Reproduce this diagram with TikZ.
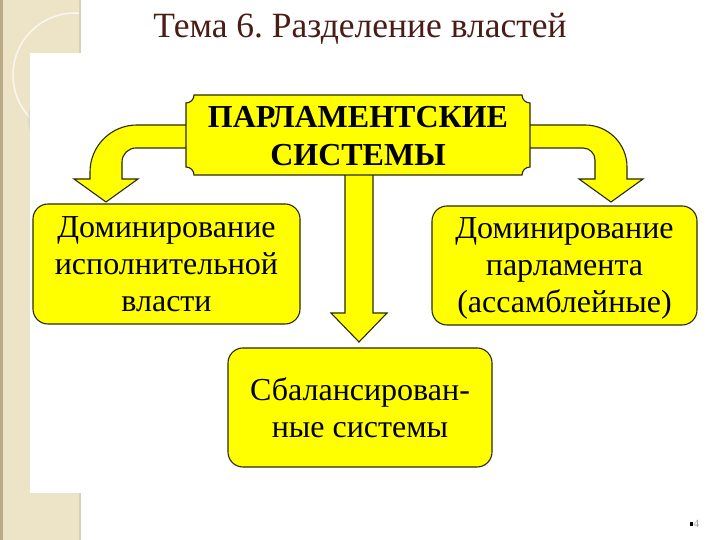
\documentclass[tikz,border=0pt]{standalone}
\usepackage{fontspec}
\setmainfont{Liberation Serif}
\frenchspacing
\definecolor{ylw}{HTML}{FFFF00}
\definecolor{edge}{HTML}{2A2A00}
\definecolor{beige}{HTML}{EDE4C8}
\definecolor{beigedark}{HTML}{B9AA88}
\definecolor{titlecol}{HTML}{4A1C16}
\tikzset{
  blockarrow/.style={fill=ylw, draw=edge, line width=1.1pt, line join=miter},
  roundbox/.style={fill=ylw, draw=edge, line width=1.1pt, rounded corners=15pt,
    align=center, inner sep=0pt, font=\fontsize{32}{37}\selectfont},
  plaque/.style={fill=ylw, draw=edge, line width=1.1pt},
}
\begin{document}
\begin{tikzpicture}[x=1pt,y=1pt]
\useasboundingbox (0,0) rectangle (720,540);
% background
\fill[white] (0,0) rectangle (720,540);
\fill[beige] (0,0) rectangle (80,540);
\begin{scope}
\clip (0,0) rectangle (80,540);
\draw[white!70!beige, line width=1.5pt] (75,465) circle[radius=62];
\draw[white!60!gray, line width=4pt, opacity=0.5] (60,420) circle[radius=30];
\end{scope}
\fill[beigedark] (0,0) rectangle (2.5,540);
\fill[beige!80!gray] (79,0) rectangle (80.5,47);
\fill[beige!80!gray] (79,487) rectangle (80.5,540);
\fill[white] (30,47) rectangle (720,487);
% title
\node[font=\fontsize{35.5}{40}\selectfont, text=titlecol] (title) at (360,511) {Тема 6. Разделение властей};
% arrows
\draw[blockarrow] (200,415) -- (137,415) arc[start angle=90,end angle=180,radius=47]
  -- (90,361) -- (74,361) -- (106,338) -- (138,361) -- (122,361) -- (122,378)
  arc[start angle=180,end angle=90,radius=14] -- (200,392) -- cycle;
\draw[blockarrow] (515,415) -- (585,415) arc[start angle=90,end angle=0,radius=42]
  -- (627,361) -- (643,361) -- (611,338) -- (579,361) -- (595,361) -- (595,380)
  arc[start angle=0,end angle=90,radius=12] -- (515,392) -- cycle;
\draw[blockarrow] (345,380) -- (345,227) -- (331,227) -- (359,198) -- (387,227)
  -- (373,227) -- (373,380) -- cycle;
% top plaque
\def\L{186}\def\R{530}\def\T{445}\def\B{365}\def\r{8}
\draw[plaque] (\L,\T-\r) arc[start angle=270,end angle=360,radius=\r]
  -- (\R-\r,\T) arc[start angle=180,end angle=270,radius=\r]
  -- (\R,\B+\r) arc[start angle=90,end angle=180,radius=\r]
  -- (\L+\r,\B) arc[start angle=0,end angle=90,radius=\r] -- cycle;
\node[align=center, font=\bfseries\fontsize{32}{38}\selectfont] (top) at (358,404)
  {ПАРЛАМЕНТСКИЕ\\СИСТЕМЫ};
% boxes
\node[roundbox, minimum width=267pt, minimum height=120pt] (left) at (166.5,276)
  {Доминирование\\исполнительной\\власти};
\node[roundbox, minimum width=265pt, minimum height=119pt] (right) at (564.5,274.5)
  {Доминирование\\парламента\\\smash{(ассамблейные)}};
\node[roundbox, minimum width=264pt, minimum height=119pt] (bottom) at (360,132.5)
  {Сбалансирован-\\ные системы};
% page number
\fill[black] (689.5,14) rectangle (693,17.5);
\node[font=\fontsize{11}{13}\selectfont, text=gray!80, anchor=west, inner sep=0pt] (pnum) at (693.5,16) {4};
\end{tikzpicture}
\end{document}
